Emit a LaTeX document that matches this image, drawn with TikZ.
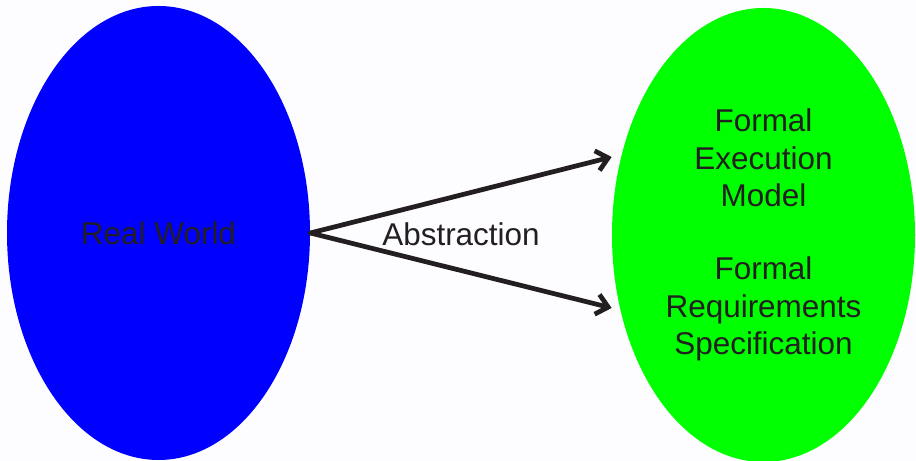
\documentclass[tikz,border=0pt]{standalone}
\usepackage{fontspec}
\setmainfont{Liberation Sans}
\usetikzlibrary{shapes.geometric,arrows.meta}
\definecolor{inkdark}{HTML}{231F20}
\definecolor{paper}{HTML}{FDFCFF}
\definecolor{worldblue}{HTML}{0000FF}
\definecolor{formalgreen}{HTML}{00FF00}
\begin{document}
\begin{tikzpicture}

      \fill[paper] (0,0) rectangle (18.32,9.22);
      \useasboundingbox (0,0) rectangle (18.32,9.22);

      \begin{scope}[every node/.style={ellipse,inner sep=0pt,text=inkdark,align=center,
          font=\fontsize{17.9pt}{21.4pt}\selectfont}]
        \node[fill=worldblue,minimum width=6.06cm,minimum height=9.08cm]   (real)   at (3.17,4.56)  {Real World};
        \node[fill=formalgreen,minimum width=6.06cm,minimum height=9.08cm] (formal) at (15.27,4.52) {Formal\\Execution\\Model\\[20pt]Formal\\Requirements\\Specification};
        \node[fill=none,minimum width=0pt,minimum height=0pt] (abstr) at (9.22,4.54) {Abstraction};
      \end{scope}

      \begin{scope}[every edge/.style={draw=inkdark,line width=2.7pt,line cap=round,line join=round,
          -{Straight Barb[length=6.5pt,width=11.5pt]}}]
        \path (real.east) edge ([yshift=1.56cm]formal.west);
        \path (real.east) edge ([yshift=-1.46cm]formal.west);
      \end{scope}

    \end{tikzpicture}
\end{document}
